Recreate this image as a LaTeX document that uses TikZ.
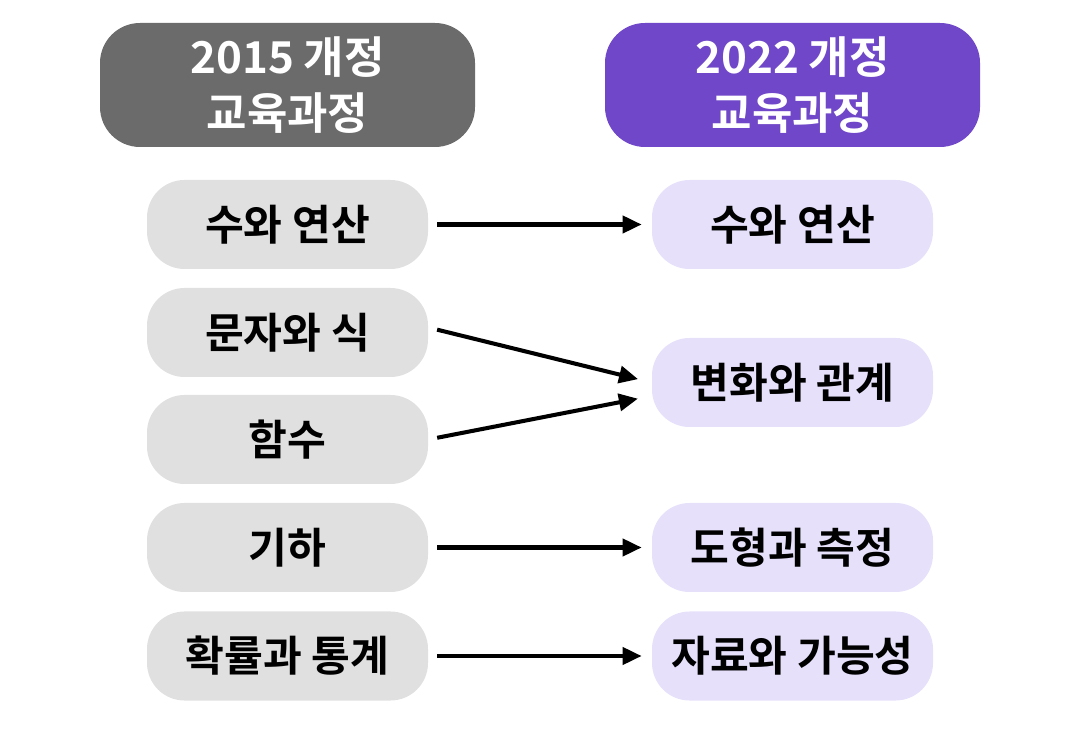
\documentclass[tikz,border=0pt]{standalone}
\usepackage{fontspec}
\setmainfont{Noto Sans CJK KR}[BoldFont={Noto Sans CJK KR Bold}]
\usetikzlibrary{arrows.meta}

\definecolor{hdrgray}{HTML}{6B6B6B}
\definecolor{hdrpurple}{HTML}{6F47C8}
\definecolor{oldfill}{HTML}{E0E0E0}
\definecolor{newfill}{HTML}{E6E0FB}

\tikzset{
  hdr/.style={rounded corners=0.8cm, minimum width=7.5cm, minimum height=2.48cm,
    text=white, align=center, font=\fontsize{25}{32}\selectfont\bfseries},
  oldbox/.style={rounded corners=0.75cm, fill=oldfill, minimum width=5.62cm,
    minimum height=1.78cm, font=\fontsize{24}{30}\selectfont\bfseries},
  newbox/.style={oldbox, fill=newfill},
  conn/.style={line width=2.3pt, -{Triangle[length=0.38cm, width=0.34cm]},
    shorten <=0.18cm, shorten >=0.2cm}
}

\begin{document}
\begin{tikzpicture}

\useasboundingbox (0,0) rectangle (21.6,14.58);

% Headers
\node[hdr, fill=hdrgray] (H1) at (5.75,12.88) {2015 개정\\교육과정};
\node[hdr, fill=hdrpurple] (H2) at (15.85,12.88) {2022 개정\\교육과정};

% 2015 column
\node[oldbox] (L1) at (5.75,10.09) {수와 연산};
\node[oldbox] (L2) at (5.75,7.93) {문자와 식};
\node[oldbox] (L3) at (5.75,5.79) {함수};
\node[oldbox] (L4) at (5.75,3.63) {기하};
\node[oldbox] (L5) at (5.75,1.46) {확률과 통계};

% 2022 column
\node[newbox] (R1) at (15.85,10.09) {수와 연산};
\node[newbox] (R2) at (15.85,6.93) {변화와 관계};
\node[newbox] (R4) at (15.85,3.63) {도형과 측정};
\node[newbox] (R5) at (15.85,1.46) {자료와 가능성};

% Connections
\draw[conn] (L1) -- (R1);
\draw[conn, shorten >=0.28cm] ([yshift=0.1cm]L2.east) -- (R2.west);
\draw[conn, shorten >=0.28cm] (L3.east) -- ([yshift=-0.27cm]R2.west);
\draw[conn] (L4) -- (R4);
\draw[conn] (L5) -- (R5);

\end{tikzpicture}
\end{document}
